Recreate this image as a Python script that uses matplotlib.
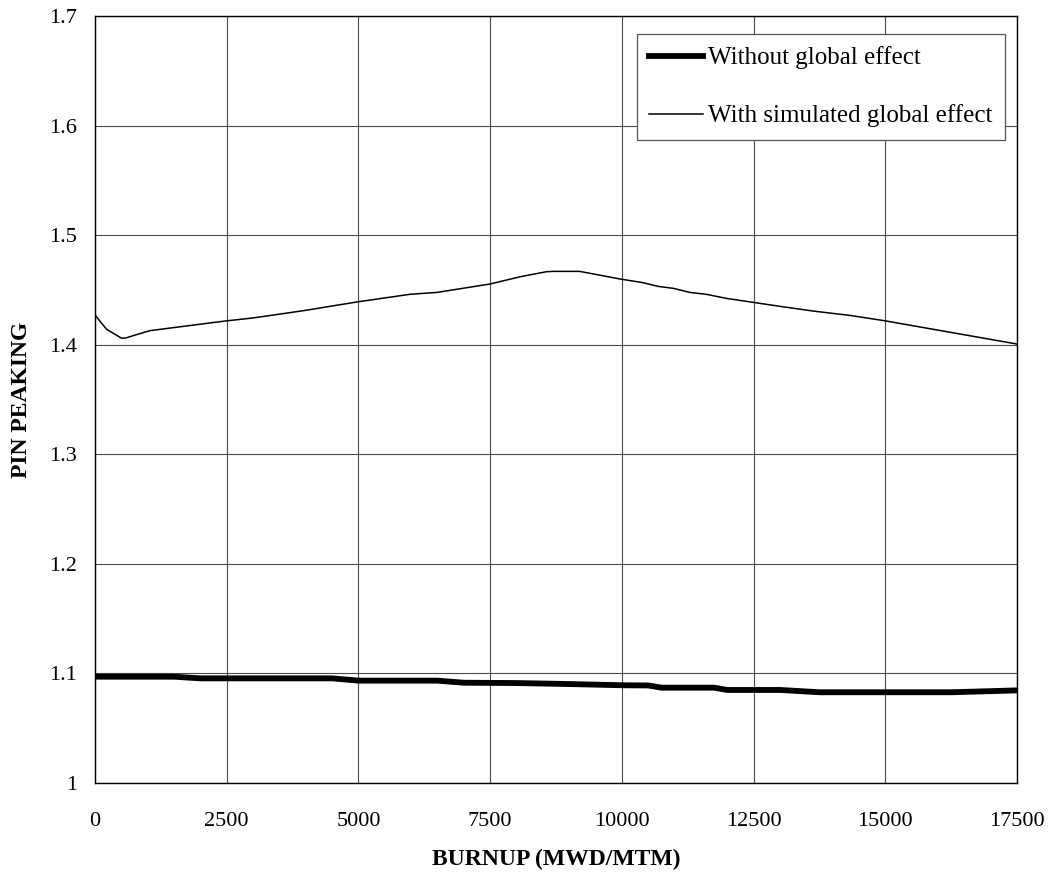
import matplotlib
matplotlib.use("Agg")
import matplotlib.pyplot as plt

plt.rcParams['font.family'] = ['Liberation Serif', 'DejaVu Serif']

# thick line - without global effect
burnup_a = [0, 1500, 2000, 4500, 5000, 6500, 7000, 8000, 9000, 10000, 10500,
            10750, 11750, 12000, 13000, 13750, 16250, 17500]
peak_a = [1.097, 1.097, 1.0955, 1.0955, 1.0934, 1.0934, 1.0915, 1.0912, 1.0903,
          1.0892, 1.0890, 1.0870, 1.0870, 1.0849, 1.0849, 1.0828, 1.0828, 1.0845]

# thin line - with simulated global effect
burnup_b = [0, 220, 500, 570, 1040, 2470, 3000, 3950, 5000, 5980, 6490, 7500,
            8070, 8570, 8700, 9200, 9960, 10400, 10690, 10980, 11290, 11610,
            11990, 12440, 13000, 13630, 14330, 14980, 17500]
peak_b = [1.427, 1.414, 1.406, 1.406, 1.4128, 1.4216, 1.4244, 1.431, 1.4392,
          1.446, 1.4477, 1.4554, 1.462, 1.4666, 1.4669, 1.4669, 1.460, 1.4566,
          1.4532, 1.4514, 1.4477, 1.4459, 1.4422, 1.439, 1.435, 1.4307, 1.4267,
          1.4219, 1.4006]

fig = plt.figure(figsize=(10.5, 8.77), dpi=100)
ax = fig.add_axes([0.0905, 0.1072, 0.8781, 0.8746])

ax.plot(burnup_a, peak_a, color="black", linewidth=4.2, label="Without global effect")
ax.plot(burnup_b, peak_b, color="black", linewidth=1.1, label="With simulated global effect")

ax.set_xlim(0, 17500)
ax.set_ylim(1, 1.7)
ax.set_xticks(range(0, 17501, 2500))
ax.set_yticks([1, 1.1, 1.2, 1.3, 1.4, 1.5, 1.6, 1.7])
ax.set_yticklabels(["1", "1.1", "1.2", "1.3", "1.4", "1.5", "1.6", "1.7"])
ax.grid(True, color="black", linewidth=0.8, alpha=0.7)
ax.set_axisbelow(True)
ax.tick_params(labelsize=16, length=0)
ax.tick_params(axis="x", pad=21)
ax.tick_params(axis="y", pad=13)
for s in ax.spines.values():
    s.set_linewidth(1.0)

ax.set_xlabel("BURNUP (MWD/MTM)", fontsize=17, fontweight="bold", labelpad=13)
ax.set_ylabel("PIN PEAKING", fontsize=17, fontweight="bold", labelpad=12)

leg = ax.legend(loc="upper right", bbox_to_anchor=(1005 / 1050, 1 - 34 / 877),
                bbox_transform=fig.transFigure, fontsize=18, frameon=True,
                fancybox=False, edgecolor="#555555", framealpha=1,
                handlelength=2.15, handletextpad=0.2, labelspacing=1.4,
                borderpad=0.5, borderaxespad=0)
leg.get_frame().set_linewidth(0.9)

fig.savefig("out.png", dpi=100)
